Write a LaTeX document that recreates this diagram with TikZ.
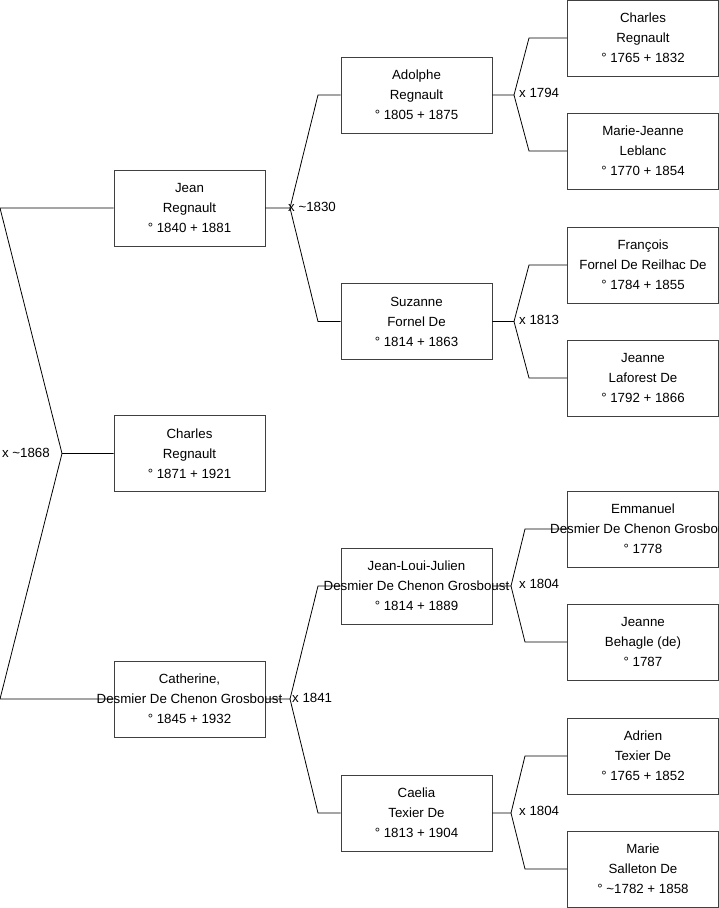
\documentclass[tikz,border=0pt]{standalone}
\usepackage{fontspec}
\setmainfont{Liberation Sans}
\newcommand\wideline[1]{\makebox[0pt][c]{#1}}

\begin{document}
\begin{tikzpicture}[x=1pt,y=-1pt,
  person/.style={draw=black!75, line width=0.8pt, minimum width=151pt, minimum height=76pt,
    inner sep=0pt, align=center, font=\fontsize{13.3}{20}\selectfont},
  link/.style={draw=black, line width=0.8pt},
  marr/.style={inner sep=0pt, font=\fontsize{13.3}{16}\selectfont}]
\useasboundingbox (0,0) rectangle (719,908);
% first generation
\node[person] (jean) at (189.5,208) {Jean\\Regnault\\° 1840 + 1881};
\node[person] (charles) at (189.5,453.5) {Charles\\Regnault\\° 1871 + 1921};
\node[person] (catherine) at (189.5,699) {Catherine,\\\wideline{Desmier De Chenon Grosboust}\\° 1845 + 1932};
% second generation
\node[person] (adolphe) at (416.5,95) {Adolphe\\Regnault\\° 1805 + 1875};
\node[person] (suzanne) at (416.5,321.5) {Suzanne\\Fornel De\\° 1814 + 1863};
\node[person] (jlj) at (416.5,586) {Jean-Loui-Julien\\\wideline{Desmier De Chenon Grosboust}\\° 1814 + 1889};
\node[person] (caelia) at (416.5,813) {Caelia\\Texier De\\° 1813 + 1904};
% third generation
\node[person] (charlesr) at (643,38) {Charles\\Regnault\\° 1765 + 1832};
\node[person] (mariej) at (643,151) {Marie-Jeanne\\Leblanc\\° 1770 + 1854};
\node[person] (francois) at (643,265) {François\\Fornel De Reilhac De\\° 1784 + 1855};
\node[person] (jeannel) at (643,378) {Jeanne\\Laforest De\\° 1792 + 1866};
\node[person] (emmanuel) at (643,529) {Emmanuel\\\wideline{Desmier De Chenon Grosboust}\\° 1778};
\node[person] (jeanneb) at (643,642) {Jeanne\\Behagle (de)\\° 1787};
\node[person] (adrien) at (643,756) {Adrien\\Texier De\\° 1765 + 1852};
\node[person] (maries) at (643,869) {Marie\\Salleton De\\° \textasciitilde1782 + 1858};

% marriage forks
\coordinate (f0) at (62,453.5);
\coordinate (t0) at (0,0);
\draw[link] (charles.west) -- (f0) -- (t0 |- jean.west) -- (jean.west);
\draw[link] (f0) -- (t0 |- catherine.west) -- (catherine.west);
\node[marr, anchor=east] (m0) at (50,453) {x \textasciitilde1868};

\coordinate (f1) at (290,208);
\coordinate (f2) at (290,699);
\coordinate (t1) at (318,0);
\draw[link] (jean.east) -- (f1) -- (t1 |- adolphe.west) -- (adolphe.west);
\draw[link] (f1) -- (t1 |- suzanne.west) -- (suzanne.west);
\draw[link] (catherine.east) -- (f2) -- (t1 |- jlj.west) -- (jlj.west);
\draw[link] (f2) -- (t1 |- caelia.west) -- (caelia.west);
\node[marr, anchor=west] (m1) at (288,207) {x \textasciitilde1830};
\node[marr, anchor=west] (m2) at (292,698) {x 1841};

\coordinate (f3) at (514,95);
\coordinate (f4) at (514,321.5);
\coordinate (f5) at (511,586);
\coordinate (f6) at (511,813);
\coordinate (t2) at (529,0);
\coordinate (t3) at (525,0);
\draw[link] (adolphe.east) -- (f3) -- (t2 |- charlesr.west) -- (charlesr.west);
\draw[link] (f3) -- (t2 |- mariej.west) -- (mariej.west);
\draw[link] (suzanne.east) -- (f4) -- (t2 |- francois.west) -- (francois.west);
\draw[link] (f4) -- (t2 |- jeannel.west) -- (jeannel.west);
\draw[link] (jlj.east) -- (f5) -- (t3 |- emmanuel.west) -- (emmanuel.west);
\draw[link] (f5) -- (t3 |- jeanneb.west) -- (jeanneb.west);
\draw[link] (caelia.east) -- (f6) -- (t3 |- adrien.west) -- (adrien.west);
\draw[link] (f6) -- (t3 |- maries.west) -- (maries.west);
\node[marr, anchor=west] (m3) at (519,93) {x 1794};
\node[marr, anchor=west] (m4) at (519,320) {x 1813};
\node[marr, anchor=west] (m5) at (519,584) {x 1804};
\node[marr, anchor=west] (m6) at (519,811) {x 1804};
\end{tikzpicture}
\end{document}
